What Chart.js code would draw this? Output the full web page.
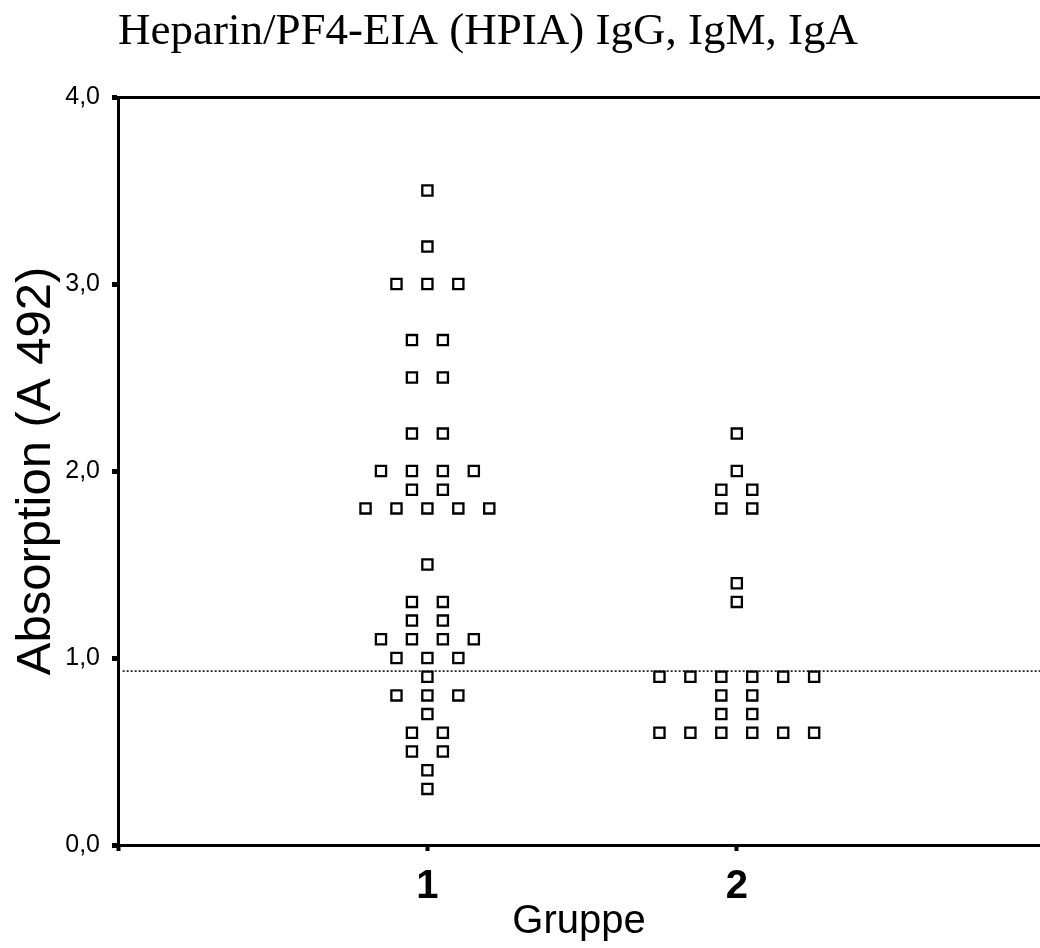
<!DOCTYPE html>
<html>
    <head>
        <title>Heparin/PF4-EIA</title>
        <script src="https://cdn.jsdelivr.net/npm/chart.js@4"></script>
        <style>
            body { margin: 0; background: #fff; }
            .chart-container { position: relative; width: 1040px; height: 948px; }
        </style>
    </head>
    <body>
        <div class="chart-container">
            <canvas id="myChart"></canvas>
        </div>

        <script>
            // absorption values, one list per group
            var group1 = [3.5, 3.2, 3.0, 3.0, 3.0, 2.7, 2.7, 2.5, 2.5, 2.2, 2.2,
                2.0, 2.0, 2.0, 2.0, 1.9, 1.9, 1.8, 1.8, 1.8, 1.8, 1.8,
                1.5, 1.3, 1.3, 1.2, 1.2, 1.1, 1.1, 1.1, 1.1, 1.0, 1.0, 1.0,
                0.9, 0.8, 0.8, 0.8, 0.7, 0.6, 0.6, 0.5, 0.5, 0.4, 0.3];
            var group2 = [2.2, 2.0, 1.9, 1.9, 1.8, 1.8, 1.4, 1.3,
                0.9, 0.9, 0.9, 0.9, 0.9, 0.9, 0.8, 0.8, 0.7, 0.7,
                0.6, 0.6, 0.6, 0.6, 0.6, 0.6];
            var groups = [1, 2];
            var groupLabels = ['1', '2'];
            var cutoff = 0.93;
            var yTicks = [0, 1, 2, 3, 4];

            // spread equal values side by side around the group position
            function dotPoints(values, g) {
                var counts = {};
                values.forEach(function(v) { counts[v] = (counts[v] || 0) + 1; });
                var seen = {};
                return values.map(function(v) {
                    var k = seen[v] || 0;
                    seen[v] = k + 1;
                    return { x: g + (k - (counts[v] - 1) / 2) * 0.1, y: v };
                });
            }

            Chart.defaults.font.family = "'Liberation Sans', Arial, sans-serif";
            Chart.defaults.color = '#000';

            var pointStyle = {
                pointStyle: 'rect',
                pointRadius: 7.2,
                pointBorderWidth: 2.3,
                pointBorderColor: '#000',
                pointBackgroundColor: '#fff',
                showLine: false
            };

            var ctx = document.getElementById('myChart').getContext('2d');
            var chart = new Chart(ctx, {
                type: 'scatter',
                data: {
                    datasets: [
                        Object.assign({ label: 'Gruppe 1', data: dotPoints(group1, groups[0]) }, pointStyle),
                        Object.assign({ label: 'Gruppe 2', data: dotPoints(group2, groups[1]) }, pointStyle),
                        {
                            label: 'cutoff',
                            data: [{ x: 0.015, y: cutoff }, { x: 2.98, y: cutoff }],
                            showLine: true,
                            borderColor: '#000',
                            borderWidth: 1.5,
                            borderDash: [2, 2],
                            pointRadius: 0,
                            order: 5
                        }
                    ]
                },
                options: {
                    responsive: true,
                    maintainAspectRatio: false,
                    animation: false,
                    layout: { padding: 0, autoPadding: false },
                    plugins: {
                        legend: { display: false },
                        tooltip: { enabled: false },
                        title: {
                            display: true,
                            text: 'Heparin/PF4-EIA (HPIA) IgG, IgM, IgA',
                            align: 'start',
                            fullSize: false,
                            color: '#000',
                            font: { family: "'Liberation Serif', 'Times New Roman', serif", size: 45, weight: 'normal', lineHeight: 1.2 },
                            padding: { top: 5, bottom: 38 }
                        }
                    },
                    scales: {
                        x: {
                            type: 'linear',
                            min: 0,
                            max: 2.98,
                            afterBuildTicks: function(scale) {
                                scale.ticks = [0].concat(groups).map(function(v) { return { value: v }; });
                            },
                            afterFit: function(scale) {
                                scale.height = 103;
                                scale.paddingLeft = 0;
                                scale.paddingRight = 0;
                            },
                            ticks: {
                                font: { size: 40, weight: 'bold' },
                                padding: 12,
                                maxRotation: 0,
                                callback: function(v) {
                                    var i = groups.indexOf(v);
                                    return i < 0 ? '' : groupLabels[i];
                                }
                            },
                            grid: {
                                drawOnChartArea: false,
                                tickLength: 6,
                                tickWidth: 4,
                                tickColor: '#000'
                            },
                            border: { color: '#000', width: 3 },
                            title: {
                                display: true,
                                text: 'Gruppe',
                                font: { size: 40, lineHeight: 1.2 },
                                padding: { top: 0, bottom: 2 }
                            }
                        },
                        y: {
                            min: 0,
                            max: 4,
                            afterBuildTicks: function(scale) {
                                scale.ticks = yTicks.map(function(v) { return { value: v }; });
                            },
                            afterFit: function(scale) { scale.width = 118; },
                            ticks: {
                                font: { size: 25 },
                                padding: 12,
                                callback: function(v) { return v.toFixed(1).replace('.', ','); }
                            },
                            grid: {
                                color: function(c) {
                                    return c.tick && c.tick.value === 4 ? '#000' : 'rgba(0,0,0,0)';
                                },
                                lineWidth: 3,
                                tickLength: 6,
                                tickWidth: 5,
                                tickColor: '#000'
                            },
                            border: { color: '#000', width: 3 },
                            title: {
                                display: true,
                                text: 'Absorption (A 492)',
                                font: { size: 49, lineHeight: 1.2 },
                                padding: { top: 7, bottom: 0 }
                            }
                        }
                    }
                }
            });
        </script>
    </body>
</html>
